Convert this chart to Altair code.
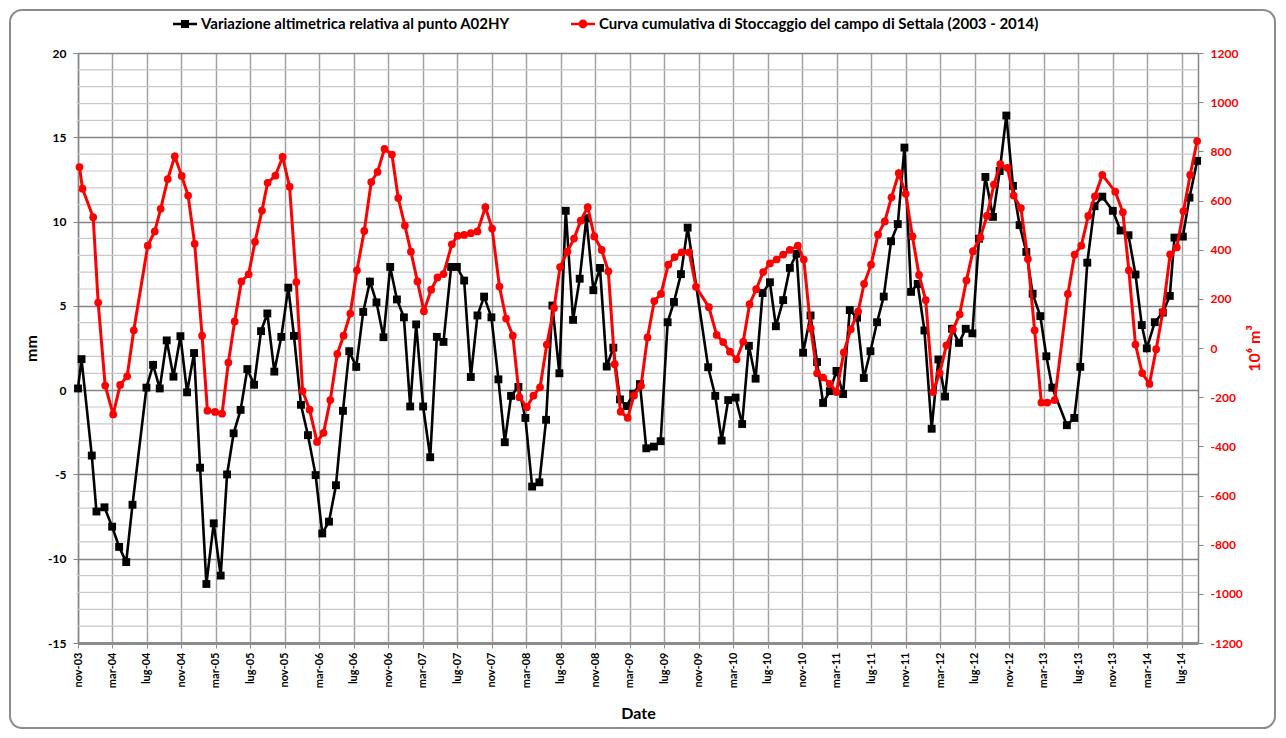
import altair as alt
import pandas as pd

BLACK_LABEL = "Variazione altimetrica relativa al punto A02HY"
RED_LABEL = "Curva cumulativa di Stoccaggio del campo di Settala (2003 - 2014)"

# months elapsed since nov-2003
black_month = [0.0, 0.41, 1.60, 2.14, 3.07, 3.96, 4.77, 5.59, 6.32, 7.94,
               8.71, 9.48, 10.29, 11.07, 11.88, 12.65, 13.46, 14.16, 14.89, 15.74,
               16.55, 17.29, 18.05, 18.86, 19.64, 20.42, 21.23, 21.96, 22.77, 23.58,
               24.39, 25.05, 25.86, 26.67, 27.56, 28.33, 29.11, 29.92, 30.73, 31.46,
               32.27, 33.08, 33.86, 34.62, 35.43, 36.21, 36.99, 37.80, 38.53, 39.22,
               40.03, 40.85, 41.62, 42.39, 43.28, 43.94, 44.79, 45.56, 46.33, 47.10,
               47.95, 48.76, 49.50, 50.23, 51.08, 51.89, 52.67, 53.51, 54.29, 55.02,
               55.83, 56.57, 57.42, 58.19, 58.96, 59.77, 60.54, 61.32, 62.09, 62.86,
               63.64, 64.40, 65.18, 65.91, 66.80, 67.58, 68.39, 69.12, 69.93, 70.71,
               73.09, 73.91, 74.65, 75.41, 76.27, 77.03, 77.81, 78.59, 79.40, 80.25,
               80.94, 81.79, 82.56, 83.34, 84.10, 84.96, 85.72, 86.42, 87.20, 87.97,
               88.74, 89.51, 90.36, 91.14, 91.91, 92.68, 93.45, 94.30, 95.08, 95.85,
               96.62, 97.39, 98.17, 99.01, 99.79, 100.56, 101.37, 102.18, 102.96, 103.73,
               104.50, 105.24, 106.12, 106.90, 107.67, 108.44, 109.21, 109.99, 110.72, 111.61,
               112.31, 113.00, 114.69, 115.55, 116.25, 117.06, 117.90, 118.80, 120.02, 120.92,
               121.84, 122.65, 123.38, 123.96, 124.89, 125.82, 126.63, 127.17, 128.14, 128.91,
               129.80]
black_mm = [0.1, 1.84, -3.88, -7.2, -6.95, -8.1, -9.3, -10.2, -6.8, 0.15,
            1.5, 0.1, 2.95, 0.8, 3.2, -0.13, 2.2, -4.6, -11.5, -7.9,
            -11.0, -5.0, -2.56, -1.17, 1.25, 0.32, 3.5, 4.55, 1.10, 3.16,
            6.08, 3.22, -0.87, -2.67, -5.04, -8.50, -7.80, -5.64, -1.23, 2.31,
            1.38, 4.64, 6.44, 5.21, 3.14, 7.31, 5.38, 4.32, -0.97, 3.90,
            -0.97, -3.98, 3.16, 2.86, 7.31, 7.31, 6.50, 0.78, 4.43, 5.55,
            4.32, 0.64, -3.09, -0.34, 0.19, -1.65, -5.72, -5.47, -1.76, 5.02,
            1.0, 10.64, 4.17, 6.61, 10.2, 5.93, 7.25, 1.40, 2.52, -0.55,
            -0.95, -0.21, 0.36, -3.45, -3.35, -3.03, 4.03, 5.23, 6.88, 9.64,
            1.36, -0.34, -2.99, -0.59, -0.44, -2.01, 2.63, 0.68, 5.76, 6.40,
            3.79, 5.34, 7.25, 8.09, 2.22, 4.43, 1.67, -0.76, -0.06, 1.14,
            -0.23, 4.75, 4.3, 0.72, 2.31, 4.03, 5.55, 8.83, 9.85, 14.39,
            5.83, 6.3, 3.54, -2.29, 1.82, -0.38, 3.64, 2.80, 3.64, 3.37,
            8.98, 12.65, 10.28, 13.0, 16.29, 12.12, 9.79, 8.2, 5.72, 4.39,
            2.01, 0.15, -2.08, -1.65, 1.38, 7.56, 10.91, 11.48, 10.64, 9.47,
            9.19, 6.86, 3.86, 2.48, 4.03, 4.60, 5.59, 9.05, 9.11, 11.42,
            13.60]

red_month = [0.17, 0.52, 1.76, 2.34, 3.15, 4.08, 4.89, 5.70, 6.47, 8.09,
             8.90, 9.59, 10.41, 11.22, 12.03, 12.77, 13.53, 14.39, 15.01, 15.90,
             16.71, 17.44, 18.17, 18.95, 19.79, 20.53, 21.34, 21.99, 22.89, 23.73,
             24.54, 25.32, 26.05, 26.86, 27.72, 28.48, 29.26, 30.07, 30.80, 31.58,
             32.35, 33.20, 34.01, 34.74, 35.55, 36.41, 37.14, 37.91, 38.61, 39.37,
             40.12, 40.96, 41.69, 42.39, 43.36, 44.03, 44.79, 45.56, 46.33, 47.25,
             48.03, 48.88, 49.65, 50.43, 51.19, 52.05, 52.82, 53.59, 54.37, 55.21,
             55.91, 56.76, 57.53, 58.31, 59.12, 59.88, 60.74, 61.51, 62.25, 62.94,
             63.75, 64.48, 65.30, 66.05, 66.84, 67.61, 68.46, 69.20, 70.01, 70.89,
             71.67, 73.17, 74.07, 74.83, 75.61, 76.38, 77.15, 77.89, 78.66, 79.47,
             80.25, 81.02, 81.79, 82.56, 83.49, 84.18, 84.99, 85.72, 86.42, 87.20,
             87.97, 88.82, 89.63, 90.48, 91.17, 91.98, 92.79, 93.57, 94.35, 95.19,
             96.00, 96.78, 97.54, 98.32, 99.17, 99.94, 100.72, 101.48, 102.26, 103.04,
             103.80, 104.66, 105.42, 106.23, 106.97, 107.79, 108.52, 109.36, 110.17, 110.95,
             111.73, 112.42, 113.27, 114.81, 115.59, 116.36, 117.17, 117.94, 118.80, 120.30,
             121.18, 121.88, 122.65, 123.43, 124.27, 125.05, 125.82, 126.67, 127.44, 128.21,
             128.99, 129.80]
red_vol = [736, 648, 532, 185, -153, -270, -150, -115, 72, 416,
           474, 566, 687, 780, 700, 620, 424, 50, -255, -260,
           -267, -59, 108, 271, 300, 432, 559, 672, 701, 777,
           656, 268, -175, -251, -382, -345, -212, -24, 50, 140,
           316, 476, 675, 716, 810, 787, 610, 498, 392, 271,
           150, 237, 287, 301, 422, 457, 460, 467, 474, 573,
           486, 250, 120, 50, -200, -241, -194, -160, 14, 163,
           329, 392, 445, 518, 573, 454, 399, 312, -66, -259,
           -284, -193, -154, 43, 191, 220, 339, 370, 389, 389,
           249, 166, 53, 24, -15, -46, 25, 178, 239, 309,
           344, 360, 380, 399, 416, 360, 79, -103, -120, -146,
           -179, -18, 76, 148, 261, 339, 461, 515, 613, 711,
           627, 454, 297, 195, -179, -102, 11, 75, 137, 275,
           394, 450, 537, 665, 748, 733, 620, 569, 362, 72,
           -222, -222, -212, 220, 380, 416, 537, 617, 704, 636,
           552, 316, 14, -102, -146, -5, 147, 381, 409, 556,
           704, 842]

x_ticks = list(range(0, 129, 4))
mm_ticks = list(range(-15, 21, 5))
mm_minor = [v for v in range(-14, 20) if v % 5 != 0]
vol_ticks = list(range(-1200, 1201, 200))

df_b = pd.DataFrame({"month": black_month, "mm": black_mm, "serie": BLACK_LABEL})
df_r = pd.DataFrame({"month": red_month, "vol": red_vol, "serie": RED_LABEL})
df_g = pd.DataFrame({"mm": mm_minor})

FONT = "Lato"
GRID_DARK = "#858585"
GRID_LIGHT = "#c9c9c9"

x_scale = alt.Scale(domain=[0, 129.9], nice=False, zero=False)
yl_scale = alt.Scale(domain=[-15, 20], nice=False, zero=False)
yr_scale = alt.Scale(domain=[-1200, 1200], nice=False, zero=False)

label_expr = ("['nov','mar','lug'][(datum.value/4)%3] + '-' + "
              "((3 + floor((datum.value+10)/12)) < 10 ? '0' : '') + (3 + floor((datum.value+10)/12))")

x_axis = alt.Axis(values=x_ticks, labelExpr=label_expr, labelAngle=270, labelFont=FONT,
                  labelFontSize=11, labelFontWeight="bold", labelColor="black", labelPadding=4,
                  grid=True, gridColor="#a3a3a3", gridWidth=1.5,
                  domainColor="#8c8c8c", domainWidth=3, tickColor="#8c8c8c", tickSize=5,
                  title="Date", titleFont=FONT, titleFontSize=16, titleFontWeight="bold",
                  titleColor="black", titlePadding=18)
yl_axis = alt.Axis(values=mm_ticks, labelExpr="'' + datum.value", labelFont=FONT, labelFontSize=12,
                   labelFontWeight="bold", labelColor="black", labelPadding=7,
                   grid=True, gridColor=GRID_DARK, gridWidth=1.5,
                   domainColor=GRID_DARK, domainWidth=1.5, tickColor=GRID_DARK, tickSize=5,
                   title="mm", titleFont=FONT, titleFontSize=16, titleFontWeight="bold",
                   titleColor="black", titlePadding=8)
yr_axis = alt.Axis(values=vol_ticks, orient="right", labelExpr="'' + datum.value", labelFont=FONT,
                   labelFontSize=12, labelFontWeight="bold", labelColor="red", labelPadding=7,
                   grid=False, domainColor=GRID_DARK, domainWidth=1.5, tickColor=GRID_DARK, tickSize=5,
                   title="10⁶ m³", titleFont=FONT, titleFontSize=16, titleFontWeight="bold",
                   titleColor="red", titleAngle=270, titlePadding=20)

LINE = "M-1.2,-0.13H1.2V0.13H-1.2Z"
SQUARE = LINE + " M-0.4,-0.4H0.4V0.4H-0.4Z"
CIRCLE = LINE + " M-0.44,0A0.44,0.44,0,1,1,0.44,0A0.44,0.44,0,1,1,-0.44,0Z"

def legend(x, sym, color):
    return alt.Legend(orient="none", legendX=x, legendY=-39, title=None, symbolType=sym,
                      symbolSize=400, symbolFillColor=color, symbolStrokeColor=color,
                      symbolStrokeWidth=0, labelFont=FONT, labelFontSize=15, labelLimit=0,
                      labelFontWeight="bold", labelColor="black", labelOffset=6, padding=0)

X = alt.X("month:Q", scale=x_scale, axis=x_axis)

grid_minor = alt.Chart(df_g).mark_rule(color=GRID_LIGHT, strokeWidth=1.2).encode(
    y=alt.Y("mm:Q", scale=yl_scale, axis=yl_axis))

black_line = alt.Chart(df_b).mark_line(color="black", strokeWidth=2.6).encode(
    x=X, y=alt.Y("mm:Q", scale=yl_scale, axis=yl_axis))
black_pts = alt.Chart(df_b).mark_point(shape="square", filled=True, size=62, opacity=1).encode(
    x=X, y=alt.Y("mm:Q", scale=yl_scale, axis=yl_axis),
    color=alt.Color("serie:N", scale=alt.Scale(domain=[BLACK_LABEL], range=["black"]),
                    legend=legend(97, SQUARE, "black")))

red_line = alt.Chart(df_r).mark_line(color="red", strokeWidth=3).encode(
    x=X, y=alt.Y("vol:Q", scale=yr_scale, axis=yr_axis))
red_pts = alt.Chart(df_r).mark_point(shape="circle", filled=True, size=60, opacity=1).encode(
    x=X, y=alt.Y("vol:Q", scale=yr_scale, axis=yr_axis),
    color=alt.Color("serie:N", scale=alt.Scale(domain=[RED_LABEL], range=["red"]),
                    legend=legend(495, CIRCLE, "red")))

frame = alt.Chart(alt.Data(values=[{"k": 1}])).mark_rect(
    fillOpacity=0, stroke="#8c8c8c", strokeWidth=2, cornerRadius=12).encode(
    x=alt.value(-68), x2=alt.value(1197), y=alt.value(-43), y2=alt.value(675))

chart = alt.layer(
    alt.layer(grid_minor, black_line, black_pts),
    alt.layer(red_line, red_pts),
    frame,
).resolve_scale(y="independent", color="independent").properties(
    width=1120, height=590,
    autosize=alt.AutoSizeParams(type="none"),
    padding={"left": 70, "top": 45, "right": 80, "bottom": 87},
).configure_view(stroke=None).configure(font=FONT, background="white")

chart.save("out.html", embed_options={"renderer": "svg", "actions": False})
